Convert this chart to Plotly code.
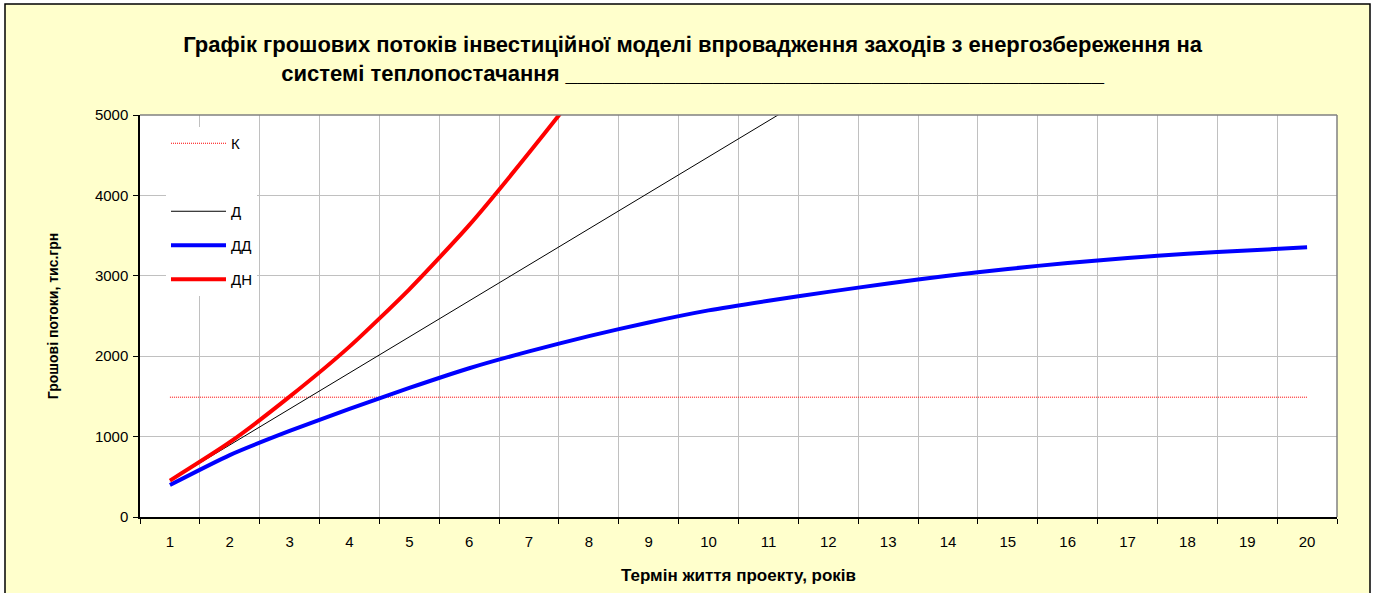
import plotly.graph_objects as go

years = list(range(1, 21))
tick_labels = [str(y) for y in years]

K_value = 1490
K = [K_value] * 20
D = [448, 896, 1344, 1792, 2240, 2688, 3136, 3584, 4032, 4480,
     4928, 5376, 5824, 6272, 6720, 7168, 7616, 8064, 8512, 8960]
DD = [398, 770, 1070, 1345, 1605, 1850, 2060, 2250, 2420, 2570,
      2690, 2800, 2905, 3000, 3085, 3160, 3220, 3275, 3315, 3355]
DN_years = [1, 2, 3, 4, 5, 6, 7, 8, 9]
DN = [452, 930, 1497, 2119, 2832, 3630, 4530, 5480, 6500]

FONT = "Arial, Liberation Sans, sans-serif"

fig = go.Figure()
fig.add_trace(go.Scatter(x=years, y=K, name="К", mode="lines", legendgroup="a",
                         line=dict(color="#FF0000", width=1, dash="1px,1px")))
fig.add_trace(go.Scatter(x=[None], y=[None], name=" ", mode="lines", legendgroup="b",
                         line=dict(color="rgba(0,0,0,0)", width=1)))
fig.add_trace(go.Scatter(x=years, y=D, name="Д", mode="lines", legendgroup="c",
                         line=dict(color="#000000", width=1)))
fig.add_trace(go.Scatter(x=years, y=DD, name="ДД", mode="lines", legendgroup="d",
                         line=dict(color="#0000FF", width=4, shape="spline", smoothing=0.6)))
fig.add_trace(go.Scatter(x=DN_years, y=DN, name="ДН", mode="lines", legendgroup="e",
                         line=dict(color="#FF0000", width=4, shape="spline", smoothing=0.6)))

L, R, T, B = 140, 40, 115, 76
W, H = 1377, 593
pw, ph = W - L - R, H - T - B

def px(xp):
    return (xp - L) / pw

def py(yp):
    return (H - B - yp) / ph

shapes = [
    # yellow chart area with black frame
    dict(type="rect", xref="paper", yref="paper", x0=px(5), x1=px(1370), y0=py(620), y1=py(4),
         fillcolor="#FFFFCC", line=dict(color="#000000", width=1.5), layer="below"),
    # white plot area
    dict(type="rect", xref="paper", yref="paper", x0=0, x1=1, y0=0, y1=1,
         fillcolor="#FFFFFF", line=dict(width=0), layer="below"),
    # top and right plot border (grey)
    dict(type="line", xref="paper", yref="paper", x0=0, x1=1, y0=1, y1=1,
         line=dict(color="#808080", width=1.5), layer="above"),
    dict(type="line", xref="paper", yref="paper", x0=1, x1=1, y0=0, y1=1,
         line=dict(color="#808080", width=1.5), layer="above"),
]

fig.update_layout(
    width=W, height=H,
    margin=dict(l=L, r=R, t=T, b=B),
    paper_bgcolor="#FFFFFF",
    plot_bgcolor="#FFFFFF",
    font=dict(family=FONT, size=15, color="#000000"),
    title=dict(
        text="Графік грошових потоків інвестиційної моделі впровадження заходів з енергозбереження на<br>"
             "системі теплопостачання " + "_" * 44,
        x=0.503, xanchor="center", y=1 - 52 / H, yanchor="top",
        font=dict(family=FONT, size=22, color="#000000", weight="bold"),
    ),
    shapes=shapes,
    showlegend=True,
    legend=dict(x=px(166), y=py(127), xanchor="left", yanchor="top",
                bgcolor="#FFFFFF", borderwidth=0, tracegroupgap=11.5,
                itemwidth=55,
                traceorder="grouped", font=dict(family=FONT, size=15)),
    xaxis=dict(
        range=[0.5, 20.5], tickmode="array", tickvals=years, ticktext=tick_labels,
        showgrid=False, ticks="", showline=True, linecolor="#000000", linewidth=1.5,
        zeroline=False, tickfont=dict(family=FONT, size=15), ticklabelstandoff=10,
        minor=dict(tick0=0.5, dtick=1, showgrid=True, gridcolor="#C0C0C0", gridwidth=1,
                   ticks="outside", ticklen=5, tickcolor="#000000"),
        title=dict(text="<b>Термін життя проекту, років</b>", font=dict(family=FONT, size=17),
                   standoff=20),
    ),
    yaxis=dict(
        range=[0, 5000], dtick=1000, showgrid=True, gridcolor="#C0C0C0", gridwidth=1,
        ticks="outside", ticklen=5, tickcolor="#000000", showline=True, linecolor="#000000",
        linewidth=1.5, zeroline=False, tickfont=dict(family=FONT, size=15), ticklabelstandoff=2,
        title=dict(text="<b>Грошові потоки, тис.грн</b>", font=dict(family=FONT, size=14),
                   standoff=33),
    ),
)

fig.write_html("out.html", config={"displayModeBar": False},
               post_script="document.body.style.margin='0';")
